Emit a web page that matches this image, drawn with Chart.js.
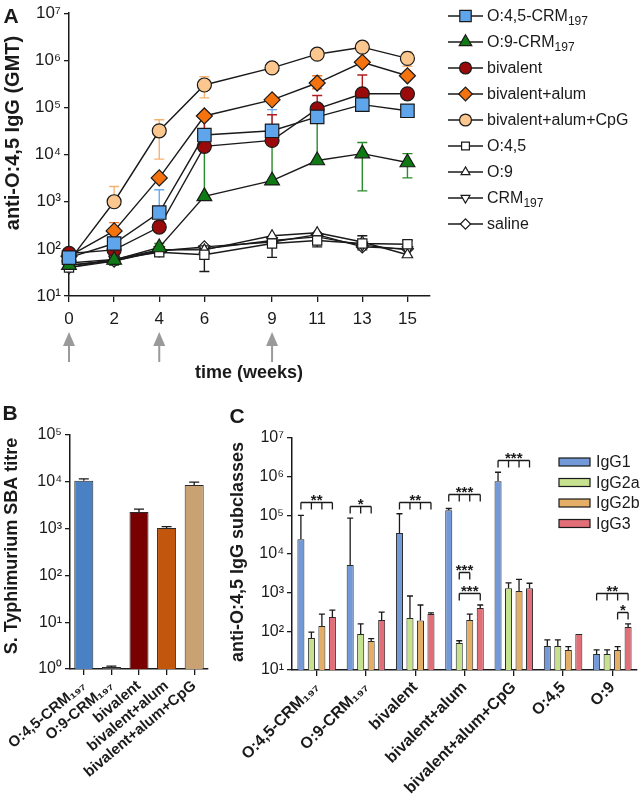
<!DOCTYPE html>
<html>
<head>
<meta charset="utf-8">
<title>anti-O:4,5 IgG responses</title>
<script src="https://cdn.jsdelivr.net/npm/chart.js@4.4.1/dist/chart.umd.min.js"></script>
<style>
  body { margin: 0; background: #fff; }
  #page { position: relative; width: 641px; height: 804px; overflow: hidden; }
  canvas { position: absolute; }
  #chartA { left: 0; top: 0; }
  #chartB { left: 0; top: 400px; }
  #chartC { left: 200px; top: 400px; }
</style>
</head>
<body>
<div id="page">
  <canvas id="chartA" width="641" height="400"></canvas>
  <canvas id="chartB" width="215" height="404"></canvas>
  <canvas id="chartC" width="441" height="404"></canvas>
</div>
<script>
// ---------- panel A: GMT over time ----------
const weeks = [0, 2, 4, 6, 9, 11, 13, 15];
const doseWeeks = [0, 4, 9];

const o45Crm   = [65, 130, 590, 26000, 32000, 63000, 115000, 85000];
const o45CrmHi = [null, 180, 1800, 78000, 90000, 75000, 150000, 100000];
const o45CrmLo = [null, null, null, null, null, null, null, null];

const o9Crm   = [45, 58, 107, 1300, 2800, 7500, 10500, 6800];
const o9CrmHi = [null, null, 130, 20000, 43000, 47000, 18000, 10500];
const o9CrmLo = [null, 45, null, null, null, null, 1700, 3200];

const bival   = [80, 95, 290, 15000, 20000, 93000, 195000, 195000];
const bivalHi = [null, 120, 380, 60000, 70000, 180000, 490000, null];
const bivalLo = [null, null, null, null, null, null, null, null];

const bivAlum   = [70, 240, 3200, 66000, 145000, 330000, 910000, 470000];
const bivAlumHi = [null, 360, null, null, null, 470000, null, null];
const bivAlumLo = [null, null, null, null, null, 250000, null, null];

const bivCpg   = [55, 1000, 32000, 300000, 690000, 1350000, 1900000, 1100000];
const bivCpgHi = [null, 2100, 55000, 450000, null, null, null, 1500000];
const bivCpgLo = [null, null, 8000, 160000, null, null, null, 750000];

const o45   = [40, 60, 85, 75, 130, 150, 130, 125];
const o45Hi = [null, null, null, 110, 170, 190, 190, 150];
const o45Lo = [null, null, null, 33, 66, 110, 95, 100];

const o9     = [45, 55, 95, 95, 190, 220, 140, 75];
const crm    = [50, 60, 95, 100, 150, 180, 120, 95];
const saline = [40, 55, 90, 110, 140, 200, 110, 100];
const none   = [null, null, null, null, null, null, null, null];

// ---------- panel B: SBA titres ----------
const sbaGroups = ['O:4,5-CRM₁₉₇', 'O:9-CRM₁₉₇', 'bivalent', 'bivalent+alum', 'bivalent+alum+CpG'];
const sbaTitre  = [10500, 1.1, 2250, 1030, 8500];
const sbaTitreHi = [11500, 1.15, 2600, 1100, 9800];

// ---------- panel C: IgG subclasses ----------
const subGroups = ['O:4,5-CRM₁₉₇', 'O:9-CRM₁₉₇', 'bivalent', 'bivalent+alum', 'bivalent+alum+CpG', 'O:4,5', 'O:9'];
const igg1   = [24000, 5200, 35000, 135000, 760000, 42, 26];
const igg1Hi = [100000, 85000, 110000, 150000, 1300000, 60, 33];
const igg2a   = [67, 85, 220, 50, 1300, 42, 26];
const igg2aHi = [95, 155, 820, 57, 1800, 60, 33];
const igg2b   = [137, 56, 190, 195, 1100, 33, 33];
const igg2bHi = [280, 65, 480, 280, 2200, 40, 40];
const igg3   = [235, 195, 280, 400, 1300, 85, 130];
const igg3Hi = [355, 315, 300, 480, 1750, null, 155];

// significance brackets: group, bars joined, level, stars
const sigGroup = [0, 1, 2, 3, 3, 3, 4, 6, 6];
const sigBars  = [[0, 1, 2, 3], [0, 1, 2], [0, 1, 2, 3], [0, 1, 2, 3], [1, 2], [1, 3], [0, 1, 2, 3], [0, 1, 2, 3], [2, 3]];
const sigLevel = [220000, 175000, 220000, 355000, 3400, 980, 2700000, 980, 315];
const sigStars = ['**', '*', '**', '***', '***', '***', '***', '**', '*'];

const FONT = '"Liberation Sans", Arial, Helvetica, sans-serif';
const INK = '#1a1a1a';
Chart.defaults.font.family = FONT;
Chart.defaults.color = INK;
Chart.defaults.animation = false;

const SUP = ['⁰', '¹', '²', '³', '⁴', '⁵', '⁶', '⁷'];
function powLabel(v) {
  return '10' + SUP[Math.round(Math.log10(v))];
}

function logAxis(lo, hi, width, size) {
  return {
    type: 'logarithmic',
    min: Math.pow(10, lo),
    max: Math.pow(10, hi),
    afterBuildTicks: (s) => {
      const t = [];
      for (let e = lo; e <= hi; e++) t.push({ value: Math.pow(10, e) });
      s.ticks = t;
    },
    afterFit: (s) => { s.width = width; },
    ticks: { callback: (v) => powLabel(v), font: { size: size }, padding: 3, color: INK },
    grid: { drawOnChartArea: false, tickLength: 5, color: INK, lineWidth: 1.3 },
    border: { color: INK, width: 1.5 },
  };
}

// plain text (panel letters, axis titles)
function textLayer(items) {
  return {
    id: 'textLayer',
    afterDraw(chart) {
      const ctx = chart.ctx;
      items.forEach((t) => {
        ctx.save();
        ctx.translate(t.x, t.y);
        if (t.rot) ctx.rotate(t.rot);
        ctx.font = t.font;
        ctx.fillStyle = INK;
        ctx.textAlign = 'center';
        ctx.textBaseline = 'middle';
        ctx.fillText(t.text, 0, 0);
        ctx.restore();
      });
    },
  };
}

const seriesA = [
  { label: 'O:4,5-CRM', sub: '197', data: o45Crm, hi: o45CrmHi, lo: o45CrmLo, fill: '#5fa5ec', err: '#69a9ef', shape: 'rect', r: 9.5 },
  { label: 'O:9-CRM', sub: '197', data: o9Crm, hi: o9CrmHi, lo: o9CrmLo, fill: '#0f7a14', err: '#2a8c2a', shape: 'triangle', r: 8.5 },
  { label: 'bivalent', data: bival, hi: bivalHi, lo: bivalLo, fill: '#9b0a0a', err: '#b31c1c', shape: 'circle', r: 7 },
  { label: 'bivalent+alum', data: bivAlum, hi: bivAlumHi, lo: bivAlumLo, fill: '#f5730f', err: '#f07020', shape: 'rectRot', r: 8 },
  { label: 'bivalent+alum+CpG', data: bivCpg, hi: bivCpgHi, lo: bivCpgLo, fill: '#fcc78f', err: '#f7b270', shape: 'circle', r: 7 },
  { label: 'O:4,5', data: o45, hi: o45Hi, lo: o45Lo, fill: '#fff', err: INK, shape: 'rect', r: 6.5 },
  { label: 'O:9', data: o9, hi: none, lo: none, fill: '#fff', err: INK, shape: 'triangle', r: 6 },
  { label: 'CRM', sub: '197', data: crm, hi: none, lo: none, fill: '#fff', err: INK, shape: 'triangle', r: 6, rot: 180 },
  { label: 'saline', data: saline, hi: none, lo: none, fill: '#fff', err: INK, shape: 'rectRot', r: 6 },
];

const errorBarsA = {
  id: 'errorBarsA',
  beforeDatasetsDraw(chart) {
    const { ctx, scales: { x, y } } = chart;
    seriesA.forEach((s) => {
      ctx.save();
      ctx.strokeStyle = s.err;
      ctx.lineWidth = 1.4;
      weeks.forEach((w, j) => {
        const px = x.getPixelForValue(w);
        const py = y.getPixelForValue(s.data[j]);
        [s.hi[j], s.lo[j]].forEach((v) => {
          if (v == null) return;
          const ey = y.getPixelForValue(v);
          ctx.beginPath();
          ctx.moveTo(px, py);
          ctx.lineTo(px, ey);
          ctx.moveTo(px - 5, ey);
          ctx.lineTo(px + 5, ey);
          ctx.stroke();
        });
      });
      ctx.restore();
    });
  },
};

const legendA = {
  id: 'legendA',
  afterDraw(chart) {
    const ctx = chart.ctx;
    seriesA.forEach((s, i) => {
      const y = 16 + i * 26;
      ctx.save();
      ctx.strokeStyle = INK;
      ctx.lineWidth = 1.4;
      ctx.beginPath();
      ctx.moveTo(448, y);
      ctx.lineTo(483, y);
      ctx.stroke();
      ctx.fillStyle = s.fill;
      ctx.lineWidth = 1.2;
      Chart.helpers.drawPoint(ctx, { pointStyle: s.shape, radius: s.r * 0.85, rotation: s.rot || 0, borderWidth: 1.2 }, 465.5, y);
      ctx.fillStyle = INK;
      ctx.font = '16px ' + FONT;
      ctx.textAlign = 'left';
      ctx.textBaseline = 'middle';
      ctx.fillText(s.label, 487, y + 1);
      if (s.sub) {
        const w = ctx.measureText(s.label).width;
        ctx.font = '12px ' + FONT;
        ctx.fillText(s.sub, 487 + w, y + 6);
      }
      ctx.restore();
    });
  },
};

const doseArrows = {
  id: 'doseArrows',
  afterDraw(chart) {
    const { ctx, scales: { x } } = chart;
    ctx.save();
    ctx.fillStyle = '#9a9a9a';
    ctx.strokeStyle = '#9a9a9a';
    ctx.lineWidth = 2;
    doseWeeks.forEach((w) => {
      const px = x.getPixelForValue(w);
      ctx.beginPath();
      ctx.moveTo(px, 332);
      ctx.lineTo(px - 6, 346);
      ctx.lineTo(px + 6, 346);
      ctx.closePath();
      ctx.fill();
      ctx.beginPath();
      ctx.moveTo(px, 345);
      ctx.lineTo(px, 362);
      ctx.stroke();
    });
    ctx.restore();
  },
};

new Chart(document.getElementById('chartA'), {
  type: 'line',
  data: {
    datasets: seriesA.map((s) => ({
      label: s.label,
      data: weeks.map((w, i) => ({ x: w, y: s.data[i] })),
      borderColor: INK,
      borderWidth: 1.4,
      pointStyle: s.shape,
      pointRadius: s.r,
      pointRotation: s.rot || 0,
      pointBackgroundColor: s.fill,
      pointBorderColor: INK,
      pointBorderWidth: 1.2,
      tension: 0,
      clip: false,
    })),
  },
  options: {
    responsive: false,
    layout: { padding: { top: 12, right: 211, left: 0, bottom: 0 } },
    plugins: { legend: { display: false }, tooltip: { enabled: false } },
    scales: {
      x: {
        type: 'linear',
        min: 0,
        max: 16,
        afterBuildTicks: (s) => { s.ticks = weeks.map((v) => ({ value: v })); },
        afterFit: (s) => { s.height = 104; },
        ticks: { font: { size: 17 }, padding: 7, color: INK },
        grid: { drawOnChartArea: false, tickLength: 6, color: INK, lineWidth: 1.3 },
        border: { color: INK, width: 1.5 },
      },
      y: logAxis(1, 7, 69, 17),
    },
  },
  plugins: [
    errorBarsA,
    legendA,
    doseArrows,
    textLayer([
      { text: 'A', x: 11, y: 17, font: 'bold 21px ' + FONT },
      { text: 'anti-O:4,5 IgG (GMT)', x: 13, y: 133, rot: -Math.PI / 2, font: 'bold 20px ' + FONT },
      { text: 'time (weeks)', x: 249, y: 373, font: 'bold 18px ' + FONT },
    ]),
  ],
});

// error bars on top of bars (panels B and C)
function barErrors(errSets, cap) {
  return {
    id: 'barErrors',
    afterDatasetsDraw(chart) {
      const ctx = chart.ctx;
      const y = chart.scales.y;
      errSets.forEach((errs, k) => {
        chart.getDatasetMeta(k).data.forEach((bar, j) => {
          const v = errs[j];
          if (v == null) return;
          const ey = y.getPixelForValue(v);
          ctx.save();
          ctx.strokeStyle = INK;
          ctx.lineWidth = 1.3;
          ctx.beginPath();
          ctx.moveTo(bar.x, bar.y);
          ctx.lineTo(bar.x, ey);
          ctx.moveTo(bar.x - cap, ey);
          ctx.lineTo(bar.x + cap, ey);
          ctx.stroke();
          ctx.restore();
        });
      });
    },
  };
}

function categoryAxis(height, size, angle) {
  return {
    type: 'category',
    afterFit: (s) => { s.height = height; },
    ticks: { minRotation: angle, maxRotation: angle, autoSkip: false, padding: 2, color: INK, font: { size: size, weight: 'bold' } },
    grid: { drawOnChartArea: false, offset: false, tickLength: 6, color: INK, lineWidth: 1.3 },
    border: { color: INK, width: 1.5 },
  };
}

new Chart(document.getElementById('chartB'), {
  type: 'bar',
  data: {
    labels: sbaGroups,
    datasets: [{
      data: sbaTitre,
      backgroundColor: ['#4a80c4', '#5a5a5a', '#780000', '#c2560c', '#c9a274'],
      borderColor: '#2a2a2a',
      borderWidth: 1,
      barPercentage: 0.69,
      categoryPercentage: 1,
    }],
  },
  options: {
    responsive: false,
    layout: { padding: { top: 35, right: 7, left: 0, bottom: 0 } },
    plugins: { legend: { display: false }, tooltip: { enabled: false } },
    scales: {
      x: categoryAxis(135, 15, 40),
      y: logAxis(0, 5, 70, 16),
    },
  },
  plugins: [
    barErrors([sbaTitreHi], 5),
    textLayer([
      { text: 'B', x: 10, y: 14, font: 'bold 21px ' + FONT },
      { text: 'S. Typhimurium SBA titre', x: 12, y: 146, rot: -Math.PI / 2, font: 'bold 18px ' + FONT },
    ]),
  ],
});

const subColors = ['#7399d8', '#c6e28e', '#e4ae66', '#e26e78'];
const subNames = ['IgG1', 'IgG2a', 'IgG2b', 'IgG3'];

const brackets = {
  id: 'brackets',
  afterDatasetsDraw(chart) {
    const { ctx, scales: { y } } = chart;
    ctx.save();
    ctx.strokeStyle = INK;
    ctx.fillStyle = INK;
    ctx.lineWidth = 1.3;
    sigGroup.forEach((g, i) => {
      const xs = sigBars[i].map((k) => chart.getDatasetMeta(k).data[g].x);
      const by = Math.round(y.getPixelForValue(sigLevel[i])) + 0.5;
      ctx.beginPath();
      ctx.moveTo(xs[0], by);
      ctx.lineTo(xs[xs.length - 1], by);
      xs.forEach((px) => { ctx.moveTo(px, by); ctx.lineTo(px, by + 7); });
      ctx.stroke();
      ctx.font = 'bold 15px ' + FONT;
      ctx.textAlign = 'center';
      ctx.textBaseline = 'middle';
      ctx.fillText(sigStars[i], (xs[0] + xs[xs.length - 1]) / 2, by - 2);
    });
    ctx.restore();
  },
};

const legendC = {
  id: 'legendC',
  afterDraw(chart) {
    const ctx = chart.ctx;
    subNames.forEach((n, i) => {
      const y = 62 + i * 20.5;
      ctx.save();
      ctx.fillStyle = subColors[i];
      ctx.strokeStyle = INK;
      ctx.lineWidth = 1.2;
      ctx.fillRect(359, y - 4, 31, 8);
      ctx.strokeRect(359, y - 4, 31, 8);
      ctx.fillStyle = INK;
      ctx.font = '16px ' + FONT;
      ctx.textAlign = 'left';
      ctx.textBaseline = 'middle';
      ctx.fillText(n, 396, y + 1);
      ctx.restore();
    });
  },
};

new Chart(document.getElementById('chartC'), {
  type: 'bar',
  data: {
    labels: subGroups,
    datasets: [igg1, igg2a, igg2b, igg3].map((d, k) => ({
      label: subNames[k],
      data: d,
      backgroundColor: subColors[k],
      borderColor: '#2a2a2a',
      borderWidth: 1,
      barPercentage: 0.67,
      categoryPercentage: 0.852,
    })),
  },
  options: {
    responsive: false,
    layout: { padding: { top: 38, right: 4, left: 0, bottom: 0 } },
    plugins: { legend: { display: false }, tooltip: { enabled: false } },
    scales: {
      x: categoryAxis(134, 16, 45),
      y: logAxis(1, 7, 92, 16),
    },
  },
  plugins: [
    barErrors([igg1Hi, igg2aHi, igg2bHi, igg3Hi], 3),
    brackets,
    legendC,
    textLayer([
      { text: 'C', x: 37, y: 17, font: 'bold 21px ' + FONT },
      { text: 'anti-O:4,5 IgG subclasses', x: 38, y: 152, rot: -Math.PI / 2, font: 'bold 18px ' + FONT },
    ]),
  ],
});
</script>
</body>
</html>
